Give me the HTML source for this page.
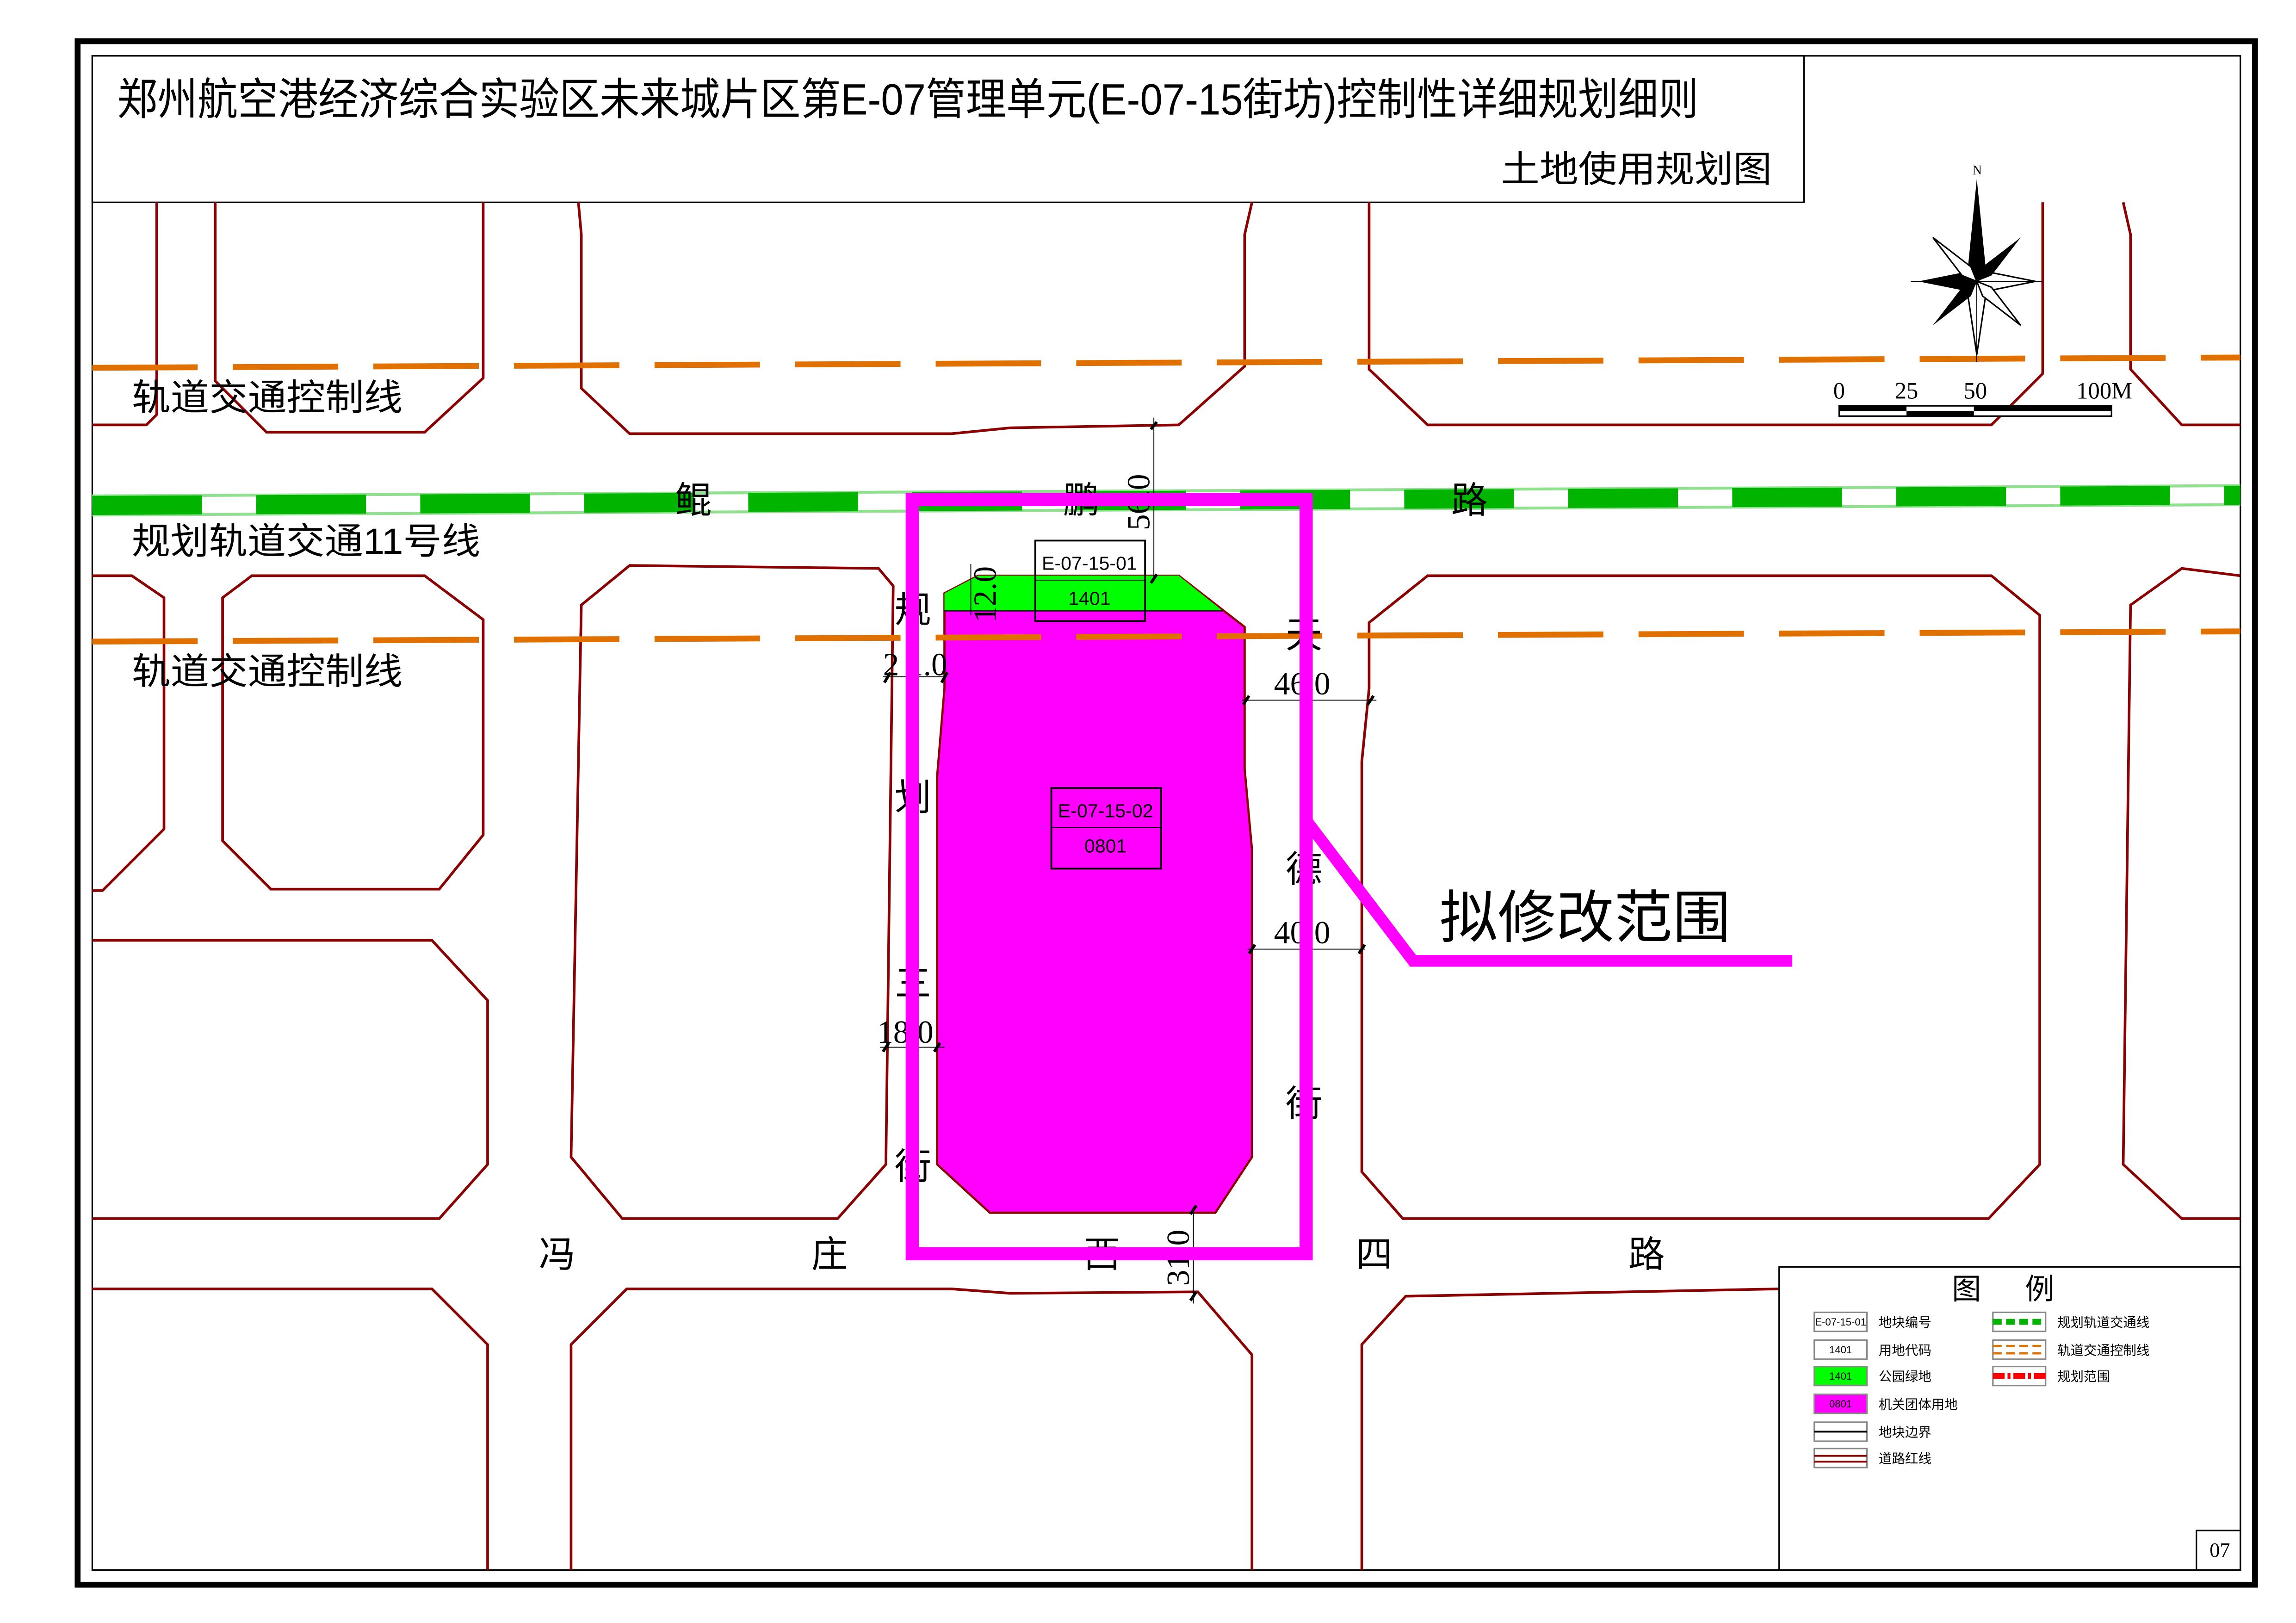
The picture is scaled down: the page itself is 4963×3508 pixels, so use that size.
<!DOCTYPE html>
<html><head><meta charset="utf-8"><style>
html,body{margin:0;padding:0;background:#fff;}
svg{display:block;}
.cn{font-family:"Liberation Sans","Noto Sans CJK SC",sans-serif;}
.sf{font-family:"Liberation Serif",serif;}
</style></head><body>
<svg width="4963" height="3508" viewBox="0 0 1568 1108" xmlns="http://www.w3.org/2000/svg">
<rect width="1568" height="1108" fill="#fff"/>
<rect x="53" y="28" width="1487" height="1054" fill="none" stroke="#000" stroke-width="4"/>
<rect x="63" y="38" width="1467" height="1034" fill="none" stroke="#000" stroke-width="1"/>
<rect x="63" y="38" width="1169" height="100" fill="#fff" stroke="#000" stroke-width="1"/>
<text x="80" y="78" class="cn" font-size="30" textLength="1080" lengthAdjust="spacingAndGlyphs">郑州航空港经济综合实验区未来城片区第E-07管理单元(E-07-15街坊)控制性详细规划细则</text>
<text x="1025" y="124" class="cn" font-size="25" textLength="185" lengthAdjust="spacingAndGlyphs">土地使用规划图</text>

<g fill="none" stroke="#8b0000" stroke-width="1.8">
<polyline points="107,138 107,283 100,290 63,290"/>
<polyline points="147,138 147,260 182,295 290,295 330,258 330,138"/>
<polyline points="395,138 397,160 397,265 430,296 650,296 690,292 805,290 850,250 850,160 855,138"/>
<polyline points="935,138 935,252 975,290 1360,290 1395,255 1395,138"/>
<polyline points="1450,138 1455,160 1455,252 1490,290 1530,290"/>
<polyline points="63,393 90,393 112,408 112,566 70,608 63,608"/>
<polygon points="172,393 290,393 330,423 330,570 300,607 185,607 152,574 152,408"/>
<polyline points="63,642 295,642 333,683 333,795 300,832 63,832"/>
<polygon points="430,386 600,388 610,400 605,795 572,832 425,832 390,790 397,413"/>
<polygon points="975,393 1360,393 1393,420 1393,795 1358,832 958,832 930,800 930,520 935,470 935,425"/>
<polyline points="1530,393 1490,388 1455,413 1450,795 1490,832 1530,832"/>
<polyline points="63,880 295,880 333,918 333,1072"/>
<polyline points="390,1072 390,918 428,880 650,880 690,883 818,882 855,925 855,1072"/>
<polyline points="930,1072 930,918 960,885 1215,880"/>
</g>

<polygon points="645,405 668,393 805,393 850,428 850,525 855,580 855,790 830,828 676,828 640,795 640,530 645,470" fill="#ff00ff" stroke="#8b0000" stroke-width="1.5"/>
<polygon points="645,405 668,393 805,393 835,417 645,417" fill="#00ff00"/>
<line x1="645" y1="417" x2="835" y2="417" stroke="#000" stroke-width="0.8"/>
<rect x="707" y="369" width="75" height="55" fill="none" stroke="#000" stroke-width="1.2"/>
<line x1="707" y1="396" x2="782" y2="396" stroke="#000" stroke-width="0.6"/>
<text x="744" y="389" class="cn" font-size="13" text-anchor="middle">E-07-15-01</text>
<text x="744" y="413" class="cn" font-size="13" text-anchor="middle">1401</text>
<rect x="718" y="538" width="75" height="55" fill="none" stroke="#000" stroke-width="1.2"/>
<line x1="718" y1="565" x2="793" y2="565" stroke="#000" stroke-width="0.6"/>
<text x="755" y="558" class="cn" font-size="13" text-anchor="middle">E-07-15-02</text>
<text x="755" y="582" class="cn" font-size="13" text-anchor="middle">0801</text>

<line x1="63" y1="251" x2="1530" y2="244" stroke="#e07000" stroke-width="4" stroke-dasharray="72,24"/>
<line x1="63" y1="438" x2="1530" y2="431" stroke="#e07000" stroke-width="4" stroke-dasharray="72,24"/>
<line x1="63" y1="345" x2="1530" y2="338" stroke="#90e090" stroke-width="15"/>
<line x1="63" y1="345" x2="1530" y2="338" stroke="#fff" stroke-width="11"/>
<line x1="63" y1="345" x2="1530" y2="338" stroke="#00b400" stroke-width="13" stroke-dasharray="75,37"/>

<g class="cn" font-size="25">
<text x="90" y="280" textLength="185" lengthAdjust="spacingAndGlyphs">轨道交通控制线</text>
<text x="90" y="378" textLength="238" lengthAdjust="spacingAndGlyphs">规划轨道交通11号线</text>
<text x="90" y="467" textLength="185" lengthAdjust="spacingAndGlyphs">轨道交通控制线</text>
<text x="461" y="350">鲲</text><text x="726" y="350">鹏</text><text x="991" y="350">路</text>
<text x="611" y="425">规</text><text x="611" y="553">划</text><text x="611" y="680">三</text><text x="611" y="805">街</text>
<text x="878" y="442">天</text><text x="878" y="602">德</text><text x="878" y="762">街</text>
<text x="368" y="865">冯</text><text x="554" y="865">庄</text><text x="740" y="865">西</text><text x="926" y="865">四</text><text x="1112" y="865">路</text>
</g>

<g stroke="#000" stroke-width="0.6" fill="none">
<line x1="788" y1="285" x2="788" y2="395"/>
<line x1="663" y1="385" x2="663" y2="420"/>
<line x1="603" y1="462" x2="646" y2="462"/>
<line x1="848" y1="478" x2="940" y2="478"/>
<line x1="852" y1="648" x2="932" y2="648"/>
<line x1="601" y1="715" x2="645" y2="715"/>
<line x1="815" y1="825" x2="815" y2="890"/>
</g>
<g stroke="#000" stroke-width="2">
<line x1="786" y1="293" x2="790" y2="288"/><line x1="786" y1="398" x2="790" y2="392"/>
<line x1="604" y1="466" x2="608" y2="459"/><line x1="643" y1="466" x2="647" y2="459"/>
<line x1="849" y1="481" x2="853" y2="475"/><line x1="934" y1="481" x2="938" y2="475"/>
<line x1="853" y1="651" x2="857" y2="645"/><line x1="928" y1="651" x2="932" y2="645"/>
<line x1="603" y1="718" x2="607" y2="712"/><line x1="638" y1="718" x2="642" y2="712"/>
<line x1="813" y1="829" x2="817" y2="823"/><line x1="813" y1="888" x2="817" y2="882"/>
</g>
<g class="sf" font-size="22">
<text x="603" y="461">2 1.0</text>
<text x="870" y="474">46.0</text>
<text x="870" y="644">40.0</text>
<text x="599" y="712">18.0</text>
<text transform="translate(785,362) rotate(-90)">56.0</text>
<text transform="translate(680,425) rotate(-90)">12.0</text>
<text transform="translate(812,878) rotate(-90)">31.0</text>
</g>

<rect x="623" y="341" width="269" height="515" fill="none" stroke="#ff00ff" stroke-width="9"/>
<polyline points="892,560 965,656 1224,656" fill="none" stroke="#ff00ff" stroke-width="8"/>
<text x="983" y="640" class="cn" font-size="39" textLength="199" lengthAdjust="spacingAndGlyphs">拟修改范围</text>

<g transform="translate(1350,192)">
<polygon points="0,-70 6,-10 0,0 -6,-10" fill="#000"/>
<polygon points="0,50 6,10 0,0 -6,10" fill="#fff" stroke="#000" stroke-width="1"/>
<polygon points="-40,0 -10,-6 0,0 -10,6" fill="#000"/>
<polygon points="40,0 10,-6 0,0 10,6" fill="#fff" stroke="#000" stroke-width="1"/>
<polygon points="-30,-30 -4,-10 0,0 -10,-4" fill="#fff" stroke="#000" stroke-width="1"/>
<polygon points="30,-30 4,-10 0,0 10,-4" fill="#000"/>
<polygon points="-30,30 -4,10 0,0 -10,4" fill="#000"/>
<polygon points="30,30 4,10 0,0 10,4" fill="#fff" stroke="#000" stroke-width="1"/>
<line x1="-45" y1="0" x2="45" y2="0" stroke="#000" stroke-width="0.6"/>
<line x1="0" y1="-62" x2="0" y2="55" stroke="#000" stroke-width="0.6"/>
<text x="-3" y="-73" class="sf" font-size="9">N</text>
</g>
<g class="sf" font-size="16">
<text x="1252" y="272">0</text><text x="1294" y="272">25</text><text x="1341" y="272">50</text><text x="1418" y="272">100M</text>
</g>
<rect x="1256" y="277" width="186" height="7" fill="#fff" stroke="#000" stroke-width="1"/>
<rect x="1256" y="277" width="46" height="3.5" fill="#000"/>
<rect x="1302" y="280.5" width="46" height="3.5" fill="#000"/>
<rect x="1348" y="277" width="94" height="3.5" fill="#000"/>

<rect x="1215" y="865" width="315" height="207" fill="#fff" stroke="#000" stroke-width="1"/>
<text x="1333" y="887" class="cn" font-size="20">图</text>
<text x="1383" y="887" class="cn" font-size="20">例</text>
<g stroke="#888" stroke-width="1">
<rect x="1239" y="896" width="36" height="13" fill="#fff"/>
<rect x="1239" y="915" width="36" height="13" fill="#fff"/>
<rect x="1239" y="933" width="36" height="13" fill="#00ff00"/>
<rect x="1239" y="952" width="36" height="13" fill="#ff00ff"/>
<rect x="1239" y="971" width="36" height="13" fill="#fff"/>
<rect x="1239" y="989" width="36" height="13" fill="#fff"/>
<rect x="1361" y="896" width="36" height="13" fill="#fff"/>
<rect x="1361" y="915" width="36" height="13" fill="#fff"/>
<rect x="1361" y="933" width="36" height="13" fill="#fff"/>
</g>
<line x1="1239" y1="977.5" x2="1275" y2="977.5" stroke="#000" stroke-width="1.2"/>
<line x1="1239" y1="994" x2="1275" y2="994" stroke="#8b0000" stroke-width="1.2"/>
<line x1="1239" y1="998" x2="1275" y2="998" stroke="#8b0000" stroke-width="1.2"/>
<line x1="1361" y1="902.5" x2="1397" y2="902.5" stroke="#00b400" stroke-width="4" stroke-dasharray="6,3"/>
<line x1="1361" y1="919" x2="1397" y2="919" stroke="#e07000" stroke-width="1.5" stroke-dasharray="6,3"/>
<line x1="1361" y1="924" x2="1397" y2="924" stroke="#e07000" stroke-width="1.5" stroke-dasharray="6,3"/>
<line x1="1361" y1="939.5" x2="1397" y2="939.5" stroke="#ff0000" stroke-width="4" stroke-dasharray="8,2,2,2"/>
<g class="cn" font-size="7" text-anchor="middle">
<text x="1257" y="905">E-07-15-01</text><text x="1257" y="924">1401</text><text x="1257" y="942">1401</text><text x="1257" y="961">0801</text>
</g>
<g class="cn" font-size="9">
<text x="1283" y="906">地块编号</text><text x="1283" y="925">用地代码</text><text x="1283" y="943">公园绿地</text>
<text x="1283" y="962">机关团体用地</text><text x="1283" y="981">地块边界</text><text x="1283" y="999">道路红线</text>
<text x="1405" y="906">规划轨道交通线</text><text x="1405" y="925">轨道交通控制线</text><text x="1405" y="943">规划范围</text>
</g>
<rect x="1500" y="1045" width="30" height="27" fill="#fff" stroke="#000" stroke-width="1"/>
<text x="1509" y="1063" class="sf" font-size="14">07</text>
</svg>
</body></html>
